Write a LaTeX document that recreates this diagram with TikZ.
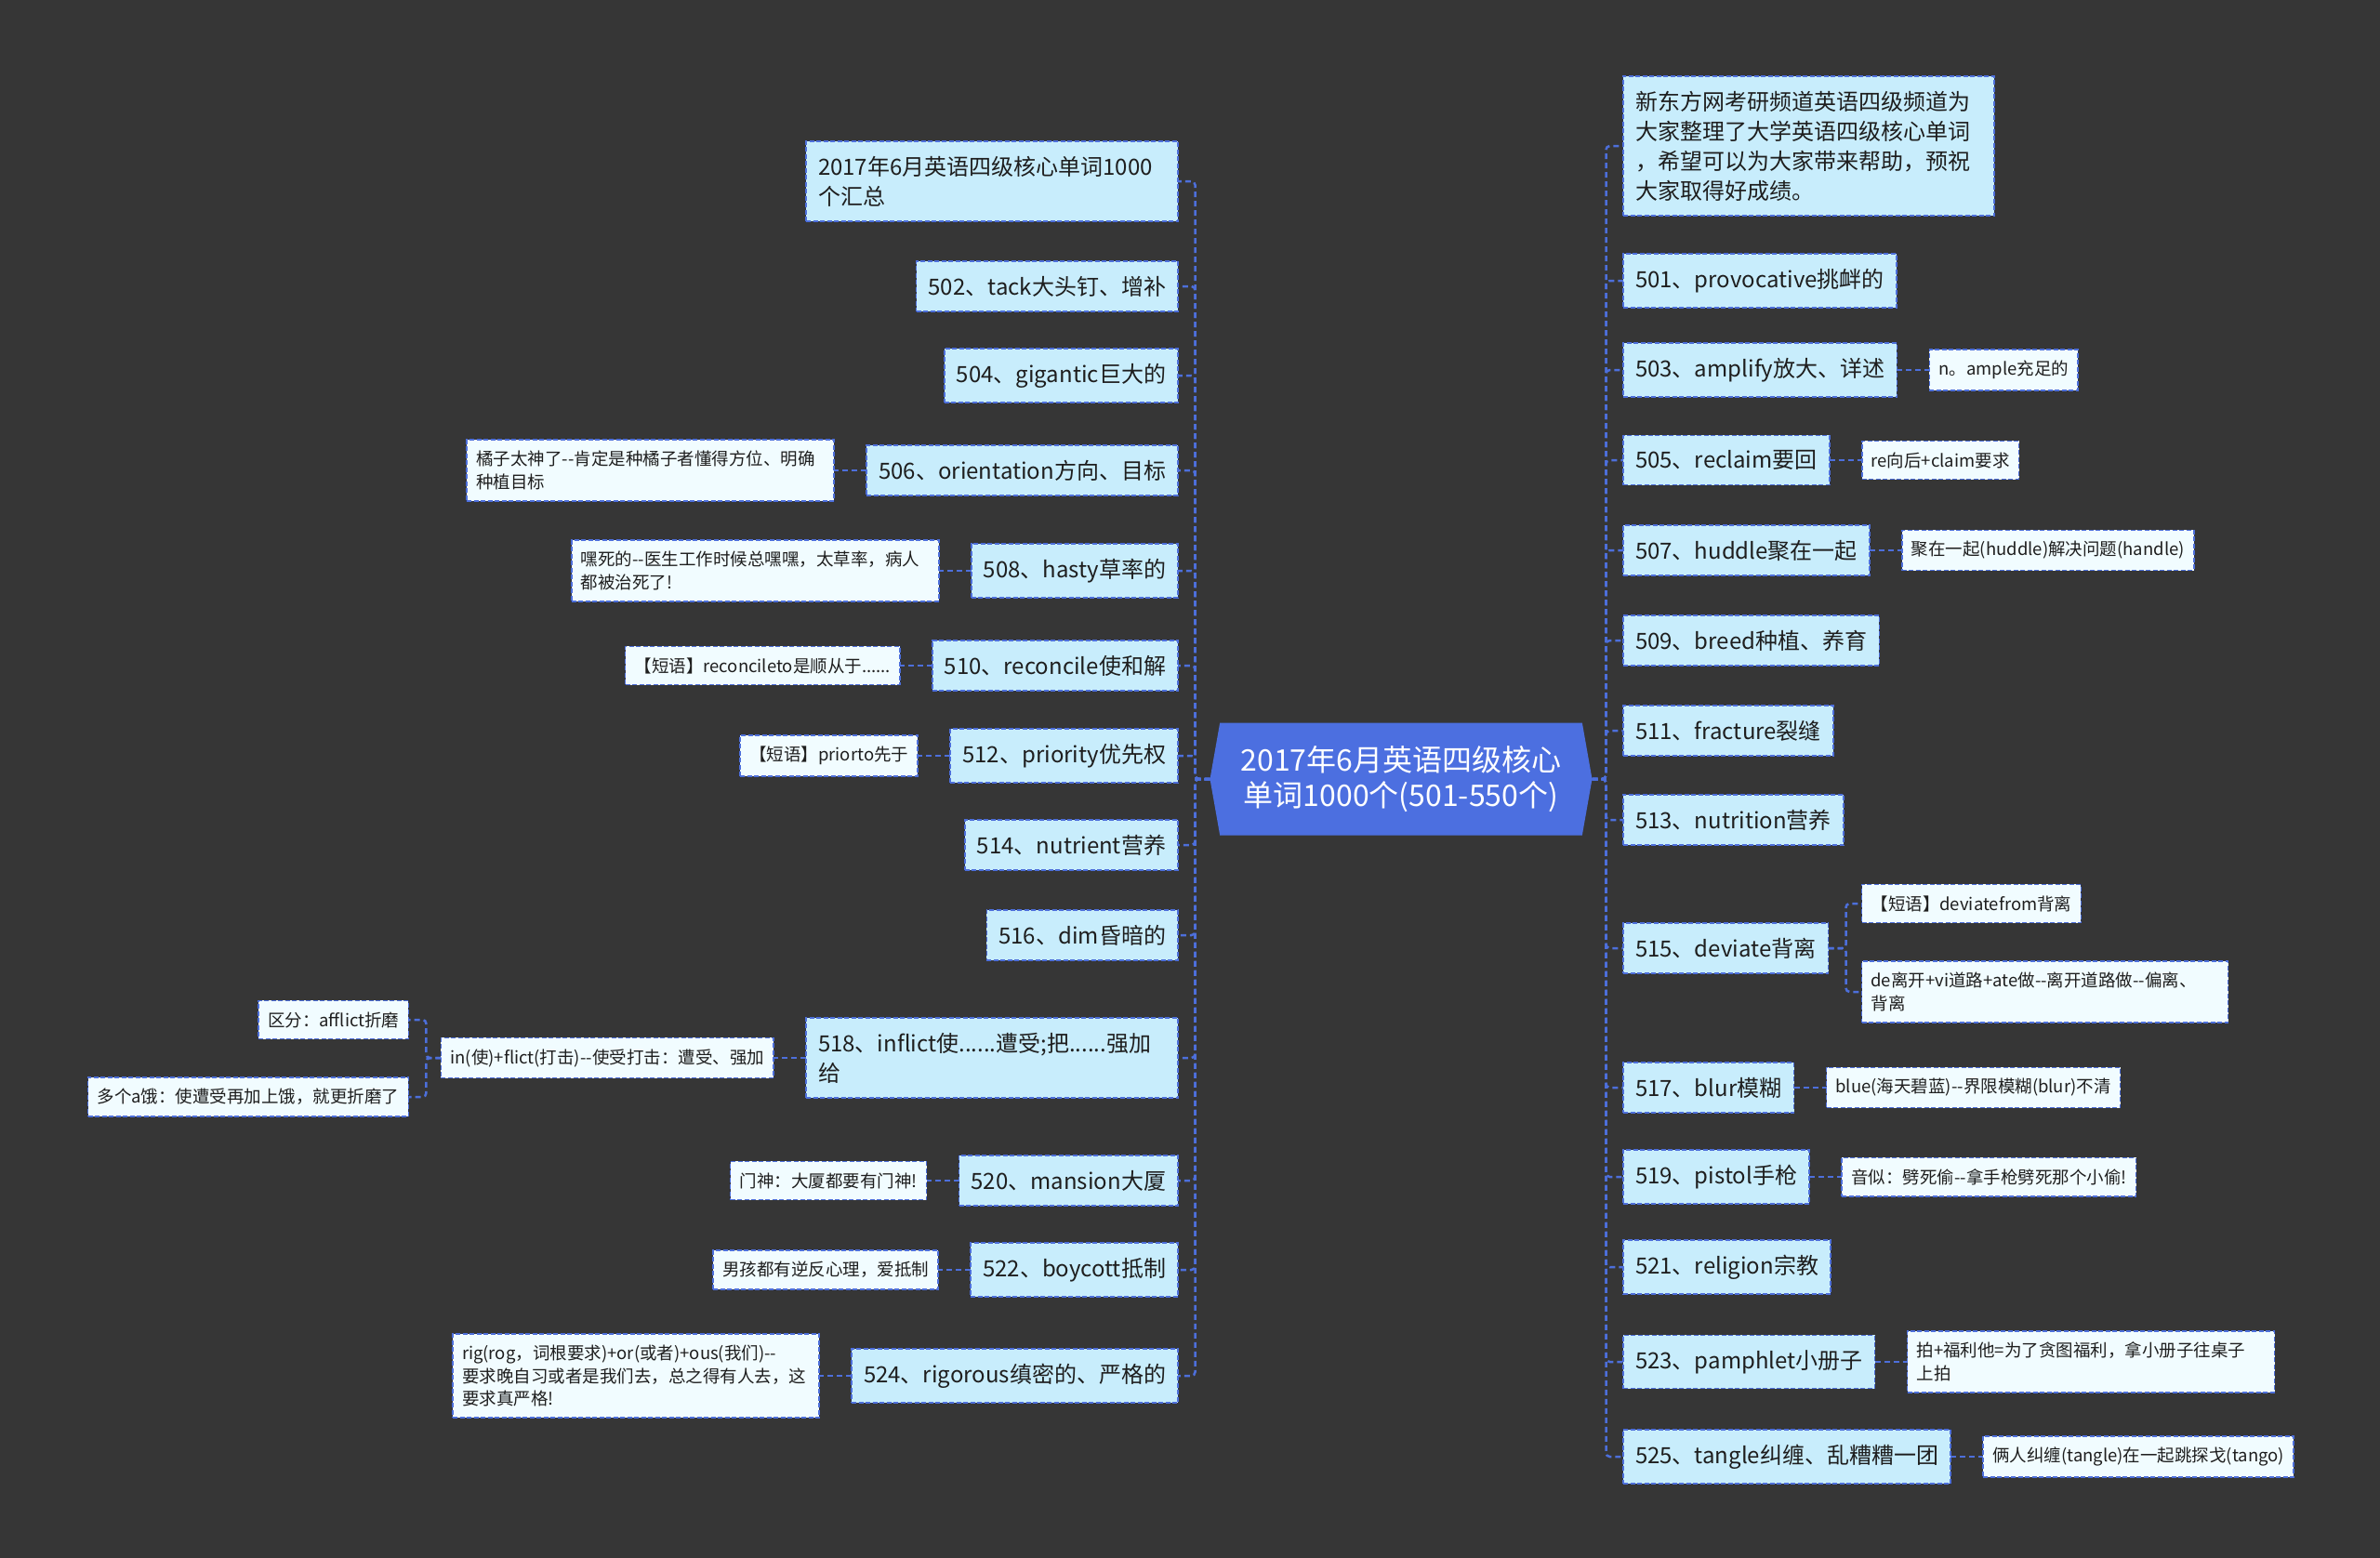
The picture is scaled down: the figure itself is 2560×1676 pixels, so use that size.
\documentclass[tikz,border=0pt]{standalone}
\usepackage{fontspec}
\setmainfont{Noto Sans CJK SC}
\usetikzlibrary{positioning,shapes.symbols}
\definecolor{vocabBack}{HTML}{363636}
\definecolor{vocabBlue}{HTML}{4C6FE0}
\definecolor{vocabLine}{HTML}{4D6FDB}
\definecolor{vocabSky}{HTML}{C8EDFC}
\definecolor{vocabPale}{HTML}{F1FCFF}
\definecolor{vocabEdge}{HTML}{2B3350}
\definecolor{vocabInk}{HTML}{1E1E1E}
\tikzset{
  vocab map/.style={
    x=1pt, y=-1pt,
    every node/.style={inner sep=0pt, outer sep=0pt}
  },
  vocab box/.style={fill=#1, draw=vocabLine, line width=1.6pt,
    dash pattern=on 5pt off 2.5pt,
    preaction={draw=vocabEdge, line width=1.6pt, solid},
    text=vocabInk, align=left},
  vocab item/.style={vocab box=vocabSky, font=\fontsize{24}{32}\selectfont,
    inner xsep=13pt, inner ysep=16pt},
  vocab note/.style={vocab box=vocabPale, font=\fontsize{18.5}{24.5}\selectfont,
    inner xsep=10pt, inner ysep=12pt},
  vocab root/.style={signal, signal to=west and east, signal pointer angle=160,
    fill=vocabBlue, text=white, font=\fontsize{32}{38}\selectfont,
    align=center, minimum width=411pt, minimum height=121pt},
  vocab link/.style={draw=vocabLine, line width=2.5pt,
    dash pattern=on 6pt off 4pt, rounded corners=4pt}
}

\begin{document}
\begin{tikzpicture}[vocab map]
    \useasboundingbox (0,0) rectangle (2560,1676);
    \fill[vocabBack] (0,0) rectangle (2560,1676);
    \node[vocab root] (root) at (1507,838) {2017年6月英语四级核心\\单词1000个(501-550个)};
    % left side
    \node[vocab item, anchor=east, text width=374pt] (n500) at (1267,195) {2017年6月英语四级核心单词1000\\个汇总};
    \node[vocab item, anchor=east] (n502) at (1267,308) {502、tack大头钉、增补};
    \node[vocab item, anchor=east] (n504) at (1267,404) {504、gigantic巨大的};
    \node[vocab item, anchor=east] (n506) at (1267,506) {506、orientation方向、目标};
    \node[vocab item, anchor=east] (n508) at (1267,614) {508、hasty草率的};
    \node[vocab item, anchor=east] (n510) at (1267,716) {510、reconcile使和解};
    \node[vocab item, anchor=east] (n512) at (1267,813) {512、priority优先权};
    \node[vocab item, anchor=east] (n514) at (1267,909) {514、nutrient营养};
    \node[vocab item, anchor=east] (n516) at (1267,1006) {516、dim昏暗的};
    \node[vocab item, anchor=east, text width=374pt] (n518) at (1267,1138) {518、inflict使......遭受;把......强加\\给};
    \node[vocab item, anchor=east] (n520) at (1267,1270) {520、mansion大厦};
    \node[vocab item, anchor=east] (n522) at (1267,1366) {522、boycott抵制};
    \node[vocab item, anchor=east] (n524) at (1267,1480) {524、rigorous缜密的、严格的};
    \node[vocab note, left=35pt of n506, text width=375pt] (t506) {橘子太神了-{}-肯定是种橘子者懂得方位、明确\\种植目标};
    \node[vocab note, left=35pt of n508, text width=375pt] (t508) {嘿死的-{}-医生工作时候总嘿嘿，太草率，病人\\都被治死了!};
    \node[vocab note, left=35pt of n510] (t510) {【短语】reconcileto是顺从于......};
    \node[vocab note, left=35pt of n512] (t512) {【短语】priorto先于};
    \node[vocab note, left=35pt of n518] (t518) {in(使)+flict(打击)-{}-使受打击：遭受、强加};
    \node[vocab note, anchor=east] (t518a) at ([xshift=-35pt,yshift=41pt]t518.west) {区分：afflict折磨};
    \node[vocab note, anchor=east] (t518b) at ([xshift=-35pt,yshift=-42pt]t518.west) {多个a饿：使遭受再加上饿，就更折磨了};
    \node[vocab note, left=35pt of n520] (t520) {门神：大厦都要有门神!};
    \node[vocab note, left=35pt of n522] (t522) {男孩都有逆反心理，爱抵制};
    \node[vocab note, left=35pt of n524, text width=374pt] (t524) {rig(rog，词根要求)+or(或者)+ous(我们)-{}-\\要求晚自习或者是我们去，总之得有人去，这\\要求真严格!};
    % right side
    \node[vocab item, anchor=west, text width=373pt] (n499) at (1746,157) {新东方网考研频道英语四级频道为\\大家整理了大学英语四级核心单词\\，希望可以为大家带来帮助，预祝\\大家取得好成绩。};
    \node[vocab item, anchor=west] (n501) at (1746,302) {501、provocative挑衅的};
    \node[vocab item, anchor=west] (n503) at (1746,398) {503、amplify放大、详述};
    \node[vocab item, anchor=west] (n505) at (1746,495) {505、reclaim要回};
    \node[vocab item, anchor=west] (n507) at (1746,592) {507、huddle聚在一起};
    \node[vocab item, anchor=west] (n509) at (1746,689) {509、breed种植、养育};
    \node[vocab item, anchor=west] (n511) at (1746,786) {511、fracture裂缝};
    \node[vocab item, anchor=west] (n513) at (1746,882) {513、nutrition营养};
    \node[vocab item, anchor=west] (n515) at (1746,1020) {515、deviate背离};
    \node[vocab item, anchor=west] (n517) at (1746,1170) {517、blur模糊};
    \node[vocab item, anchor=west] (n519) at (1746,1266) {519、pistol手枪};
    \node[vocab item, anchor=west] (n521) at (1746,1363) {521、religion宗教};
    \node[vocab item, anchor=west] (n523) at (1746,1465) {523、pamphlet小册子};
    \node[vocab item, anchor=west] (n525) at (1746,1567) {525、tangle纠缠、乱糟糟一团};
    \node[vocab note, right=35pt of n503] (t503) {n。ample充足的};
    \node[vocab note, right=35pt of n505] (t505) {re向后+claim要求};
    \node[vocab note, right=35pt of n507] (t507) {聚在一起(huddle)解决问题(handle)};
    \node[vocab note, anchor=west] (t515a) at ([xshift=36pt,yshift=48pt]n515.east) {【短语】deviatefrom背离};
    \node[vocab note, anchor=west, text width=374pt] (t515b) at ([xshift=36pt,yshift=-47pt]n515.east) {de离开+vi道路+ate做-{}-离开道路做-{}-偏离、\\背离};
    \node[vocab note, right=35pt of n517] (t517) {blue(海天碧蓝)-{}-界限模糊(blur)不清};
    \node[vocab note, right=35pt of n519] (t519) {音似：劈死偷-{}-拿手枪劈死那个小偷!};
    \node[vocab note, right=35pt of n523, text width=375pt] (t523) {拍+福利他=为了贪图福利，拿小册子往桌子\\上拍};
    \node[vocab note, right=35pt of n525] (t525) {俩人纠缠(tangle)在一起跳探戈(tango)};
    % links
    \draw[vocab link] (root.west) -- ++(-16,0) |- (n500.east);
    \draw[vocab link] (root.west) -- ++(-16,0) |- (n502.east);
    \draw[vocab link] (root.west) -- ++(-16,0) |- (n504.east);
    \draw[vocab link] (root.west) -- ++(-16,0) |- (n506.east);
    \draw[vocab link] (root.west) -- ++(-16,0) |- (n508.east);
    \draw[vocab link] (root.west) -- ++(-16,0) |- (n510.east);
    \draw[vocab link] (root.west) -- ++(-16,0) |- (n512.east);
    \draw[vocab link] (root.west) -- ++(-16,0) |- (n514.east);
    \draw[vocab link] (root.west) -- ++(-16,0) |- (n516.east);
    \draw[vocab link] (root.west) -- ++(-16,0) |- (n518.east);
    \draw[vocab link] (root.west) -- ++(-16,0) |- (n520.east);
    \draw[vocab link] (root.west) -- ++(-16,0) |- (n522.east);
    \draw[vocab link] (root.west) -- ++(-16,0) |- (n524.east);
    \draw[vocab link] (root.east) -- ++(15,0) |- (n499.west);
    \draw[vocab link] (root.east) -- ++(15,0) |- (n501.west);
    \draw[vocab link] (root.east) -- ++(15,0) |- (n503.west);
    \draw[vocab link] (root.east) -- ++(15,0) |- (n505.west);
    \draw[vocab link] (root.east) -- ++(15,0) |- (n507.west);
    \draw[vocab link] (root.east) -- ++(15,0) |- (n509.west);
    \draw[vocab link] (root.east) -- ++(15,0) |- (n511.west);
    \draw[vocab link] (root.east) -- ++(15,0) |- (n513.west);
    \draw[vocab link] (root.east) -- ++(15,0) |- (n515.west);
    \draw[vocab link] (root.east) -- ++(15,0) |- (n517.west);
    \draw[vocab link] (root.east) -- ++(15,0) |- (n519.west);
    \draw[vocab link] (root.east) -- ++(15,0) |- (n521.west);
    \draw[vocab link] (root.east) -- ++(15,0) |- (n523.west);
    \draw[vocab link] (root.east) -- ++(15,0) |- (n525.west);
    \draw[vocab link] (n506.west) -- (t506.east);
    \draw[vocab link] (n508.west) -- (t508.east);
    \draw[vocab link] (n510.west) -- (t510.east);
    \draw[vocab link] (n512.west) -- (t512.east);
    \draw[vocab link] (n518.west) -- (t518.east);
    \draw[vocab link] (t518.west) -- ++(-16,0) |- (t518a.east);
    \draw[vocab link] (t518.west) -- ++(-16,0) |- (t518b.east);
    \draw[vocab link] (n520.west) -- (t520.east);
    \draw[vocab link] (n522.west) -- (t522.east);
    \draw[vocab link] (n524.west) -- (t524.east);
    \draw[vocab link] (n503.east) -- (t503.west);
    \draw[vocab link] (n505.east) -- (t505.west);
    \draw[vocab link] (n507.east) -- (t507.west);
    \draw[vocab link] (n515.east) -- ++(19,0) |- (t515a.west);
    \draw[vocab link] (n515.east) -- ++(19,0) |- (t515b.west);
    \draw[vocab link] (n517.east) -- (t517.west);
    \draw[vocab link] (n519.east) -- (t519.west);
    \draw[vocab link] (n523.east) -- (t523.west);
    \draw[vocab link] (n525.east) -- (t525.west);
\end{tikzpicture}
\end{document}
